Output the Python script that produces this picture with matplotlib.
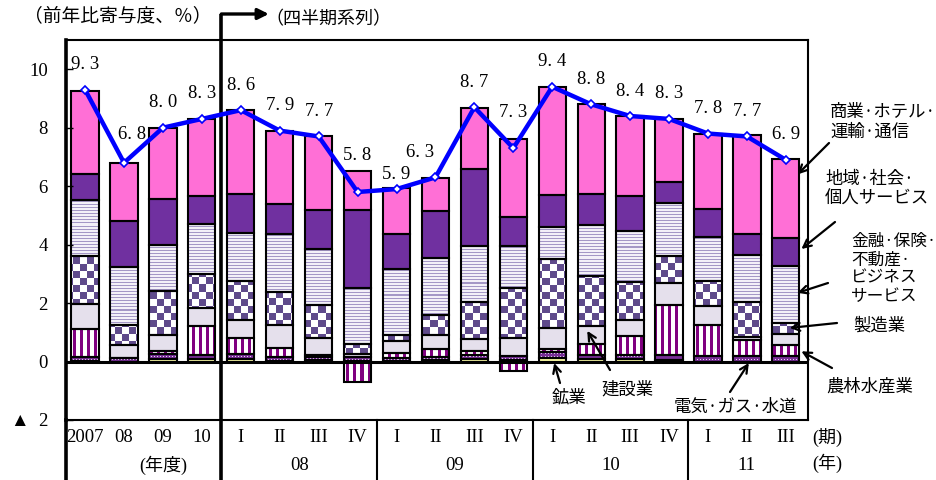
import numpy as np
import matplotlib
matplotlib.use('Agg')
import matplotlib.pyplot as plt
from matplotlib.colors import to_rgb

plt.rcParams['font.family'] = ['Liberation Serif', 'Noto Sans CJK JP', 'DejaVu Sans']

# ---- data (前年比寄与度, %) ----
year_labels = ['2007', '08', '09', '10']
quarter_labels = ['I', 'II', 'III', 'IV', 'I', 'II', 'III', 'IV',
                  'I', 'II', 'III', 'IV', 'I', 'II', 'III']
quarter_years = ['08', '09', '10', '11']

total = [9.3, 6.8, 8.0, 8.3, 8.6, 7.9, 7.7, 5.8, 5.9, 6.3, 8.7, 7.3,
         9.4, 8.8, 8.4, 8.3, 7.8, 7.7, 6.9]
mining = [0.02, 0.0, 0.10, 0.08, 0.08, 0.03, 0.04, 0.02, 0.03, 0.04, 0.08, 0.04,
          0.12, 0.08, 0.08, 0.05, 0.0, 0.0, -0.04]
utilities = [0.12, 0.12, 0.15, 0.15, 0.17, 0.12, 0.12, 0.12, 0.08, 0.12, 0.13, 0.15,
             0.20, 0.15, 0.16, 0.18, 0.19, 0.19, 0.19]
agriculture = [0.97, 0.0, 0.10, 0.97, 0.55, 0.32, 0.08, -0.70, 0.18, 0.28, 0.16, -0.33,
               0.12, 0.37, 0.63, 1.72, 1.05, 0.54, 0.37]
construction = [0.86, 0.44, 0.55, 0.63, 0.63, 0.77, 0.58, 0.13, 0.42, 0.46, 0.40, 0.63,
                0.72, 0.63, 0.54, 0.72, 0.66, 0.11, 0.37]
manufacturing = [1.64, 0.68, 1.53, 1.17, 1.34, 1.15, 1.12, 0.32, 0.20, 0.68, 1.26, 1.69,
                 2.35, 1.69, 1.30, 0.95, 0.86, 1.18, 0.40]
finance = [1.92, 1.99, 1.56, 1.69, 1.64, 1.96, 1.91, 1.91, 2.26, 1.97, 1.92, 1.43,
           1.08, 1.75, 1.77, 1.80, 1.49, 1.64, 1.95]
social = [0.88, 1.57, 1.57, 0.98, 1.31, 1.05, 1.34, 2.67, 1.18, 1.59, 2.63, 1.00,
          1.12, 1.06, 1.17, 0.71, 0.98, 0.71, 0.95]
commerce = [2.86, 2.00, 2.44, 2.63, 2.88, 2.50, 2.51, 1.35, 1.57, 1.14, 2.10, 2.69,
            3.67, 3.07, 2.75, 2.17, 2.57, 3.38, 2.69]

# ---- layout ----
W, H = 937, 480
AX_L, AX_R, AX_T, AX_B = 66, 808, 40, 420
XLIM = (-0.49, 18.57)
YLIM = (-2, 11)

fig = plt.figure(figsize=(W / 100, H / 100), dpi=100)
ax = fig.add_axes([AX_L / W, 1 - AX_B / H, (AX_R - AX_L) / W, (AX_B - AX_T) / H])


def fx(px):
    return px / W


def fy(py):
    return 1 - py / H


# pixel patterns used as bar fills
pw, ph = AX_R - AX_L, AX_B - AX_T
rr, cc = np.mgrid[0:ph, 0:pw]


def pattern(mask, c_on, c_off):
    img = np.empty((ph, pw, 3))
    img[:] = to_rgb(c_off)
    img[mask] = to_rgb(c_on)
    return img


vstripes = pattern(cc % 7 < 3, '#800080', '#ffffff')
hstripes = pattern(rr % 3 == 0, '#a497c6', '#f3f0f8')
checkers = pattern(((rr // 7) + (cc // 7)) % 2 == 0, '#5f4a8b', '#ffffff')
dots = pattern((rr % 3 == 1) & (cc % 3 == 1), '#e8d8f0', '#7a3098')

series = [
    (mining, '#ffffa8'),
    (utilities, dots),
    (agriculture, vstripes),
    (construction, '#e5e0ec'),
    (manufacturing, checkers),
    (finance, hstripes),
    (social, '#7030a0'),
    (commerce, '#ff6fd6'),
]

n = len(total)
x = np.arange(n)
pos = np.zeros(n)
neg = np.zeros(n)
BW = 0.7
for vals, fill in series:
    v = np.array(vals)
    bottom = np.where(v >= 0, pos, neg)
    if isinstance(fill, str):
        ax.bar(x, v, BW, bottom, color=fill, linewidth=0, zorder=1)
    else:
        bars = ax.bar(x, v, BW, bottom, color='none', linewidth=0, zorder=1)
        for b in bars:
            im = ax.imshow(fill, extent=(*XLIM, *YLIM), aspect='auto',
                           interpolation='nearest', zorder=1)
            im.set_clip_path(b)
    ax.bar(x, v, BW, bottom, fill=False, edgecolor='black', linewidth=1.5, zorder=2)
    pos += np.where(v > 0, v, 0)
    neg += np.where(v < 0, v, 0)

ax.axhline(0, color='black', lw=2.2, zorder=2.5)

# total line
ax.plot(x, total, color='#0000ff', lw=3.2, marker='D', ms=4.5, mfc='white',
        mec='#0000ff', mew=1.2, zorder=4)

# value labels: offset above the point in px, with a few exceptions
px_per_unit = (AX_B - AX_T) / (YLIM[1] - YLIM[0])
px_per_cat = (AX_R - AX_L) / (XLIM[1] - XLIM[0])
label_up = {1: 28, 7: 37, 8: 15, 11: 36}
label_dx = {1: 8, 9: -15}
for i, v in enumerate(total):
    up = label_up.get(i, 25) / px_per_unit
    dx = label_dx.get(i, 0) / px_per_cat
    ax.text(i + dx, v + up, f'{v:.1f}'.replace('.', '. '), ha='center', va='center',
            fontsize=13.5, zorder=5, clip_on=False)

ax.set_xlim(*XLIM)
ax.set_ylim(*YLIM)
ax.set_xticks([])
ax.set_yticks([-2, 0, 2, 4, 6, 8, 10])
ax.set_yticklabels(['▲  2', '0', '2', '4', '6', '8', '10'])
ax.tick_params(axis='y', direction='in', length=5, width=1, pad=13, labelsize=13.5)
for s in ax.spines.values():
    s.set_linewidth(1.5)
ax.spines['left'].set_linewidth(2.6)

# category table under the axis
trans = ax.get_xaxis_transform()
row_bottom = -60 / (AX_B - AX_T)
top_ext = (AX_B - 14) / (AX_B - AX_T)
ax.plot([3.5, 3.5], [row_bottom, top_ext], transform=trans, color='black', lw=2.6,
        clip_on=False, solid_capstyle='butt')
ax.plot([XLIM[0], XLIM[0]], [row_bottom, 0], transform=trans, color='black', lw=2.6,
        clip_on=False)
for xv in [7.5, 11.5, 15.5]:
    ax.plot([xv, xv], [row_bottom, 0], transform=trans, color='black', lw=1.5,
            clip_on=False)

row1 = -(437 - AX_B) / (AX_B - AX_T)
row2 = -(465 - AX_B) / (AX_B - AX_T)
for i, lab in enumerate(year_labels):
    ax.text(i, row1, lab, transform=trans, ha='center', va='center', fontsize=13.5)
for i, lab in enumerate(quarter_labels):
    ax.text(4 + i, row1, lab, transform=trans, ha='center', va='center', fontsize=13.5)
ax.text(2, row2, '(年度)', transform=trans, ha='center', va='center', fontsize=13)
for i, lab in enumerate(quarter_years):
    first = 4 + 4 * i
    last = min(first + 3, n - 1)
    ax.text((first + last) / 2, row2, lab, transform=trans, ha='center', va='center',
            fontsize=13.5)
fig.text(fx(812), fy(437), '(期)', ha='left', va='center', fontsize=13)
fig.text(fx(812), fy(463), '(年)', ha='left', va='center', fontsize=13)

# header texts
fig.text(fx(24), fy(16), '（前年比寄与度、％）', ha='left', va='center', fontsize=13.5,
         family='Noto Sans CJK JP')
arrow_y = (AX_B - 14) / (AX_B - AX_T)
ax.annotate('', xy=(4.72, arrow_y), xytext=(3.5, arrow_y), xycoords=trans,
            arrowprops=dict(arrowstyle='-|>', color='black', lw=2.4, mutation_scale=16,
                            shrinkA=0, shrinkB=0), annotation_clip=False)
ax.text(4.63, (AX_B - 19) / (AX_B - AX_T), '（四半期系列）', transform=trans, ha='left',
        va='center', fontsize=13, family='Noto Sans CJK JP')

# industry labels with arrows
labels = [
    ('商業·ホテル·\n運輸·通信', (830, 103), 'left', (829, 143), (18.3, 6.4), 12.5),
    ('地域·社会·\n個人サービス', (825, 170), 'left', (835, 222), (18.4, 3.85), 12.5),
    ('金融·保険·\n不動産·\nビジネス\nサービス', (851, 233), 'left', (828, 283), (18.3, 2.35), 12),
    ('製造業', (853, 317), 'left', (837, 323), (18.1, 1.15), 12.5),
    ('農林水産業', (826, 378), 'left', (832, 368), (18.4, 0.35), 12.5),
    ('鉱業', (569, 388), 'center', (560, 383), (12.05, -0.05), 12.5),
    ('建設業', (627, 380), 'center', (610, 370), (12.9, 1.05), 12.5),
    ('電気·ガス·水道', (735, 398), 'center', (730, 392), (17.05, -0.05), 12.5),
]
for text, (tx, ty), ha, (ax0, ay0), tip, size in labels:
    fig.text(fx(tx), fy(ty), text, ha=ha, va='top', fontsize=size, linespacing=1.1,
             family='Noto Sans CJK JP')
    ax.annotate('', xy=tip, xycoords='data', xytext=(fx(ax0), fy(ay0)),
                textcoords='figure fraction',
                arrowprops=dict(arrowstyle='->', color='black', lw=1.6, mutation_scale=14,
                                shrinkA=0, shrinkB=0), annotation_clip=False, zorder=6)

fig.savefig('out.png', dpi=100)
